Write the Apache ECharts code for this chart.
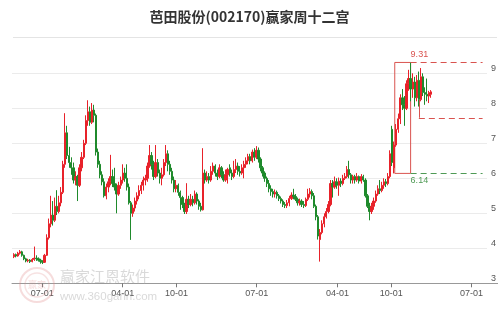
<!DOCTYPE html>
<html><head><meta charset="utf-8">
<script src="https://cdn.jsdelivr.net/npm/echarts@6/dist/echarts.min.js"></script>
<style>html,body{margin:0;padding:0;background:#fff}#c{width:499px;height:309px}</style>
</head><body><div id="c"></div>
<script>
const chartTitle = '芭田股份(002170)赢家周十二宫';
const firstWeek = '2021-03-26';           // date of first weekly candle, one candle per week after it
// weekly candles: [open, close, low, high]
const ohlc = [
[3.76,3.82,3.72,3.86],[3.82,3.78,3.74,3.85],[3.78,3.86,3.76,3.90],[3.86,3.90,3.82,3.95],[3.90,3.80,3.76,3.93],
[3.80,3.70,3.66,3.82],[3.70,3.64,3.60,3.73],[3.64,3.66,3.60,3.70],[3.66,3.62,3.58,3.69],[3.62,3.68,3.60,3.72],
[3.68,3.72,3.64,4.05],[3.72,3.70,3.64,3.80],[3.70,3.66,3.62,3.74],[3.66,3.62,3.56,3.70],[3.62,3.60,3.55,3.66],
[3.60,3.80,3.58,3.84],[3.80,4.30,3.78,4.40],[4.30,4.70,4.25,4.85],[4.70,4.95,4.60,5.50],[4.95,4.80,4.65,5.35],
[4.80,5.20,4.75,5.45],[5.20,5.05,4.95,5.66],[5.05,5.30,5.00,5.50],[5.30,5.60,5.20,5.75],[5.60,6.40,5.55,6.50],
[6.40,7.30,6.30,7.86],[7.30,6.65,6.55,7.50],[6.65,6.45,6.30,6.90],[6.45,6.30,6.10,6.60],[6.30,5.95,5.85,6.45],
[5.95,6.05,5.80,6.20],[6.05,5.80,5.35,6.10],[5.80,6.30,5.75,6.40],[6.30,6.60,6.20,6.75],[6.60,7.00,6.55,7.10],
[7.00,7.65,6.95,7.80],[7.65,7.90,7.50,8.23],[7.90,7.60,7.50,8.05],[7.60,7.95,7.55,8.15],[7.95,7.80,7.60,8.10],
[7.80,6.75,6.65,7.85],[6.75,6.40,6.30,6.85],[6.40,6.10,6.00,6.50],[6.10,5.90,5.80,6.20],[5.90,5.50,5.45,6.00],
[5.50,5.75,5.40,5.85],[5.75,5.90,5.60,6.00],[5.90,6.05,5.80,6.67],[6.05,5.85,5.75,6.25],[5.85,5.75,5.65,6.30],
[5.75,5.55,5.00,5.85],[5.55,5.80,5.50,5.90],[5.80,5.95,5.70,6.05],[5.95,6.15,5.85,6.40],[6.15,6.00,5.90,6.30],
[6.00,5.75,5.65,6.40],[5.75,5.30,5.25,5.85],[5.30,5.00,4.24,5.35],[5.00,5.15,4.90,5.25],[5.15,5.35,5.05,5.45],
[5.35,5.50,5.25,5.60],[5.50,5.65,5.40,5.80],[5.65,5.80,5.55,5.90],[5.80,5.95,5.65,6.05],[5.95,6.00,5.80,6.10],
[6.00,6.35,5.90,6.45],[6.35,6.65,6.30,6.95],[6.65,6.40,6.25,6.75],[6.40,6.05,5.95,6.50],[6.05,6.45,6.00,6.95],
[6.45,6.15,6.05,6.55],[6.15,6.00,5.85,6.25],[6.00,6.10,5.80,6.30],[6.10,6.45,6.05,6.55],[6.45,6.70,6.35,6.95],
[6.70,6.40,6.20,6.80],[6.40,6.20,6.10,6.50],[6.20,5.95,5.85,6.30],[5.95,5.70,5.60,6.05],[5.70,5.80,5.60,5.95],
[5.80,5.60,5.50,5.85],[5.60,5.45,5.10,5.65],[5.45,5.25,5.15,5.50],[5.25,5.05,4.98,5.30],[5.05,5.40,4.98,5.86],
[5.40,5.25,5.15,5.50],[5.25,5.40,5.20,5.55],[5.40,5.30,5.20,5.50],[5.30,5.55,5.25,5.65],[5.55,5.35,5.25,5.60],
[5.35,5.20,5.10,5.40],[5.20,5.10,5.05,5.30],[5.10,6.15,5.08,6.86],[6.15,5.95,5.85,6.25],[5.95,6.05,5.90,6.20],
[6.05,5.95,5.85,6.15],[5.95,6.20,5.90,6.35],[6.20,6.35,6.10,6.45],[6.35,6.15,6.05,6.40],[6.15,6.05,5.95,6.25],
[6.05,6.30,6.00,6.40],[6.30,6.10,6.00,6.35],[6.10,5.95,5.90,6.20],[5.95,6.10,5.90,6.25],[6.10,6.25,5.85,6.30],
[6.30,6.15,6.05,6.40],[6.15,6.05,5.95,6.25],[6.05,6.25,6.00,6.50],[6.25,6.35,6.15,6.55],[6.35,6.20,6.10,6.45],
[6.20,6.15,6.05,6.35],[6.15,6.30,6.10,6.40],[6.30,6.40,6.00,6.50],[6.40,6.50,6.30,6.60],[6.50,6.62,6.40,6.70],
[6.62,6.50,6.40,6.70],[6.50,6.75,6.45,6.82],[6.75,6.60,6.50,6.86],[6.60,6.80,6.55,6.92],[6.80,6.55,6.45,6.88],
[6.55,6.30,6.20,6.60],[6.30,6.15,6.05,6.35],[6.15,6.00,5.90,6.20],[6.00,5.85,5.75,6.05],[5.85,5.70,5.60,5.95],
[5.70,5.62,5.50,5.80],[5.62,5.55,5.45,5.70],[5.55,5.60,5.45,5.68],[5.60,5.50,5.42,5.65],[5.50,5.42,5.35,5.55],
[5.42,5.35,5.28,5.48],[5.35,5.25,5.18,5.40],[5.25,5.22,5.15,5.32],[5.22,5.30,5.15,5.38],[5.30,5.42,5.20,5.50],
[5.42,5.52,5.38,5.60],[5.52,5.48,5.40,5.70],[5.48,5.40,5.35,5.55],[5.40,5.30,5.22,5.45],[5.30,5.35,5.22,5.42],
[5.35,5.25,5.18,5.40],[5.25,5.22,5.15,5.35],[5.22,5.40,5.18,5.45],[5.40,5.55,5.35,5.70],[5.55,5.62,5.45,5.72],
[5.62,5.50,5.40,5.68],[5.50,5.20,5.15,5.58],[5.20,4.90,4.80,5.25],[4.90,4.35,4.25,4.95],[4.25,4.45,3.62,4.55],
[4.45,4.70,4.40,4.80],[4.70,4.90,4.60,5.00],[4.90,5.05,4.85,5.15],[5.05,5.25,5.00,5.35],[5.25,5.85,5.20,5.95],
[5.85,5.75,5.45,5.95],[5.75,5.90,5.70,6.05],[5.90,5.80,5.70,6.00],[5.80,5.92,5.50,6.02],[5.92,5.85,5.75,6.00],
[5.85,6.00,5.80,6.10],[6.00,6.05,5.95,6.15],[6.05,6.25,6.00,6.35],[6.25,6.10,6.00,6.50],[6.10,5.95,5.85,6.15],
[5.95,6.05,5.85,6.10],[6.05,5.95,5.85,6.10],[5.95,6.05,5.90,6.15],[6.05,5.92,5.85,6.08],[5.92,6.05,5.85,6.12],
[6.05,5.95,5.90,6.10],[5.95,5.50,5.45,6.00],[5.50,5.20,5.15,5.55],[5.20,5.05,4.80,5.30],[5.05,5.20,4.98,5.30],
[5.20,5.35,5.10,5.45],[5.35,5.55,5.30,5.65],[5.55,5.70,5.50,5.80],[5.70,5.65,5.55,5.95],[5.65,5.80,5.60,5.90],
[5.80,5.90,5.70,6.00],[5.90,5.85,5.75,5.98],[5.85,6.05,5.80,6.15],[6.05,6.70,6.00,6.80],[7.40,6.45,6.35,7.50],
[6.30,6.95,6.14,7.05],[6.95,7.40,6.90,7.55],[7.40,7.70,7.30,7.85],[7.70,8.30,7.55,8.40],[8.30,8.10,7.95,8.55],
[8.10,8.00,7.50,8.35],[8.00,8.70,7.95,8.80],[8.70,8.85,8.50,9.10],[8.85,8.55,8.20,9.31],[8.55,8.75,8.30,9.00],
[8.75,8.30,8.05,8.90],[8.30,8.80,8.20,8.95],[8.80,8.25,8.05,9.05],[8.25,8.90,8.20,9.15],[8.90,8.45,8.35,9.00],
[8.45,8.40,8.10,8.60],[8.40,8.35,8.20,8.85],[8.35,8.45,8.15,8.50],[8.40,8.47,8.30,8.52]
];
const xTickDates = ['2021-07-01','2022-04-01','2022-10-01','2023-07-01','2024-04-01','2024-10-01','2025-07-01'];
const axisMinDate = '2021-03-20', axisMaxDate = '2025-08-23';
const yMin = 3, yMax = 10, yStep = 1;
// overlay levels
const boxStartDate = '2024-10-13', boxEndDate = '2024-12-06';
const highLevel = 9.31, lowLevel = 6.14, midLevel = 7.73;
const midMarkDate = '2025-01-03', midMarkTop = 8.24;
const levelEndDate = '2025-08-08';
const lastClose = 8.47, priceLineEndDate = '2025-09-22';

function toTime(s){ const p = s.split('-').map(Number); return new Date(p[0], p[1]-1, p[2]).getTime(); }
function mmdd(v){ const d = new Date(v); const p = n => (n < 10 ? '0' : '') + n; return p(d.getMonth()+1) + '-' + p(d.getDate()); }
const f0 = firstWeek.split('-').map(Number);
const rows = ohlc.map((r, i) => [new Date(f0[0], f0[1]-1, f0[2] + 7*i).getTime(), r[0], r[1], r[2], r[3]]);
const lastTime = rows[rows.length-1][0];

const RED = '#e8222a', GREEN = '#1f8a2c';
const MRED = '#d9534f', MGREEN = '#4f9a55';
const chart = echarts.init(document.getElementById('c'), null, {renderer:'canvas'});
const tickTimes = xTickDates.map(toTime);
chart.setOption({
  animation: false,
  backgroundColor: '#fff',
  title: { text: chartTitle, left: 'center', top: 10, padding: 0,
    textStyle: { fontSize: 14, fontWeight: 'bold', color: '#333', fontFamily: 'Noto Sans CJK SC' } },
  grid: { left: 12, right: 11, top: 38.3, bottom: 25.7 },
  xAxis: {
    type: 'value', min: toTime(axisMinDate), max: toTime(axisMaxDate), scale: true,
    axisLine: { lineStyle: { color: '#999', width: 1 } },
    axisTick: { show: true, customValues: tickTimes, length: 4, lineStyle: { color: '#777' } },
    axisLabel: { customValues: tickTimes, fontSize: 9, color: '#555', margin: 6, fontFamily: 'Liberation Sans',
      formatter: v => mmdd(v) },
    splitLine: { show: false }
  },
  yAxis: {
    type: 'value', position: 'right', min: yMin, max: yMax, interval: yStep,
    axisLine: { show: false }, axisTick: { show: false },
    axisLabel: { margin: 4, align: 'left', verticalAlign: 'bottom', lineHeight: 10, fontSize: 9, color: '#555',
      fontFamily: 'Liberation Sans', formatter: v => (v >= yMax ? '' : String(v)) },
    splitLine: { showMaxLine: false, lineStyle: { color: '#ebebeb' } }
  },
  series: [{
    type: 'candlestick', clip: false, barWidth: 1.8,
    encode: { x: 0, y: [1, 2, 3, 4] },
    data: rows,
    itemStyle: { color: RED, color0: GREEN, borderColor: RED, borderColor0: GREEN, borderWidth: 1 },
    markArea: { silent: true,
      itemStyle: { color: 'rgba(0,0,0,0)', borderColor: MRED, borderWidth: 1 },
      data: [[{ coord: [toTime(boxStartDate), lowLevel] }, { coord: [toTime(boxEndDate), highLevel] }]] },
    markLine: { silent: true, symbol: 'none', animation: false, precision: 2,
      data: [
        [{ coord: [toTime(boxEndDate), highLevel], lineStyle: { color: MRED, type: [6, 4], width: 1 },
           label: { show: true, position: 'insideStartTop', formatter: String(highLevel), color: MRED, fontSize: 9, distance: [0, 3], fontFamily: 'Liberation Sans' } },
         { coord: [toTime(levelEndDate), highLevel] }],
        [{ coord: [toTime(midMarkDate), midLevel], lineStyle: { color: MRED, type: [6, 4], width: 1 }, label: { show: false } },
         { coord: [toTime(levelEndDate), midLevel] }],
        [{ coord: [toTime(midMarkDate), midMarkTop], lineStyle: { color: MRED, type: 'solid', width: 1 }, label: { show: false } },
         { coord: [toTime(midMarkDate), midLevel] }],
        [{ coord: [toTime(boxEndDate), lowLevel], lineStyle: { color: MGREEN, type: [6, 4], width: 1 },
           label: { show: true, position: 'insideStartBottom', formatter: String(lowLevel), color: MGREEN, fontSize: 9, distance: [0, 3], fontFamily: 'Liberation Sans' } },
         { coord: [toTime(levelEndDate), lowLevel] }],
        [{ coord: [lastTime, lastClose], lineStyle: { color: MGREEN, type: 'solid', width: 1 }, label: { show: false } },
         { coord: [toTime(priceLineEndDate), lastClose] }]
      ] }
  }],
  graphic: [
    { type: 'line', shape: { x1: 13, y1: 37.5, x2: 497, y2: 37.5 }, style: { stroke: '#e4e4e4', lineWidth: 1 }, silent: true },
    { type: 'line', shape: { x1: 487, y1: 283.5, x2: 498, y2: 283.5 }, style: { stroke: '#999', lineWidth: 1 }, silent: true },
    { type: 'circle', shape: { cx: 37, cy: 285, r: 17 }, style: { fill: 'none', stroke: 'rgba(225,140,140,0.3)', lineWidth: 2 }, silent: true, z: 100 },
    { type: 'circle', shape: { cx: 37, cy: 285, r: 12 }, style: { fill: 'none', stroke: 'rgba(225,140,140,0.25)', lineWidth: 1.5 }, silent: true, z: 100 },
    { type: 'text', x: 37, y: 285, style: { text: '赢家', fill: 'rgba(225,140,140,0.3)', fontSize: 9, align: 'center', verticalAlign: 'middle', fontFamily: 'Noto Sans CJK SC' }, silent: true, z: 100 },
    { type: 'text', x: 60, y: 276, style: { text: '赢家江恩软件', fill: 'rgba(170,170,170,0.45)', fontSize: 15, verticalAlign: 'middle', fontFamily: 'Noto Sans CJK SC' }, silent: true, z: 100 },
    { type: 'text', x: 60, y: 297, style: { text: 'www.360gann.com', fill: 'rgba(170,170,170,0.45)', fontSize: 11.5, verticalAlign: 'middle', fontFamily: 'Liberation Sans' }, silent: true, z: 100 }
  ]
});
</script></body></html>
